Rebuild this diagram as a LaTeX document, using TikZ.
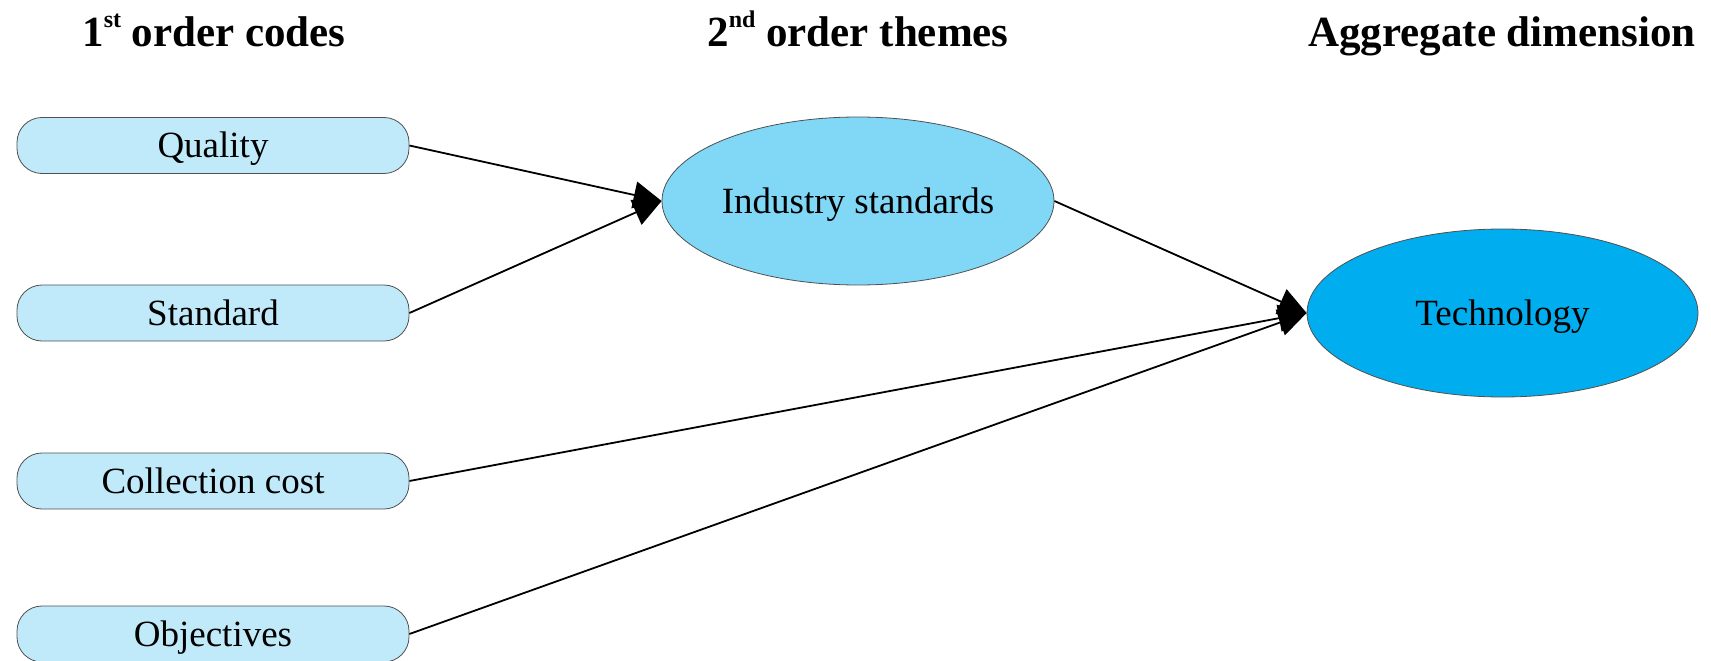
\documentclass[tikz,border=0pt]{standalone}
\usepackage{fontspec}
\setmainfont{Liberation Serif}
\usetikzlibrary{arrows.meta,shapes.geometric}

\definecolor{codefill}{HTML}{C0EAF9}
\definecolor{themefill}{HTML}{80D7F6}
\definecolor{aggfill}{HTML}{00AEEF}
\definecolor{outline}{HTML}{505050}

% raised ordinal suffix for the column headings
\newcommand{\ordsuffix}[1]{\raisebox{19pt}{\fontsize{24}{24}\selectfont #1}}

\begin{document}
\begin{tikzpicture}[x=1pt,y=-1pt,
  bodytext/.style={font=\fontsize{37}{44}\selectfont, text height=24.5pt, text depth=0pt, inner sep=0pt},
  codebox/.style={bodytext, draw=outline, line width=0.8pt, fill=codefill,
    rounded corners=25pt, minimum width=392pt, minimum height=56pt},
  themeoval/.style={bodytext, ellipse, draw=outline, line width=0.8pt, fill=themefill,
    minimum width=392pt, minimum height=168pt},
  aggoval/.style={bodytext, ellipse, draw=outline, line width=0.8pt, fill=aggfill,
    minimum width=391pt, minimum height=168pt},
  colhead/.style={font=\bfseries\fontsize{43}{50}\selectfont, anchor=base, inner sep=0pt},
  link/.style={line width=1.8pt, -{Triangle[length=28pt,width=27pt]}}
]
\useasboundingbox (0,0) rectangle (1711,661);

% column headings
\node[colhead] (h1) at (214,47) {1\ordsuffix{st} order codes};
\node[colhead] (h2) at (858,47) {2\ordsuffix{nd} order themes};
\node[colhead] (h3) at (1502,47) {Aggregate dimension};

% first order codes
\node[codebox] (quality) at (213,145.5) {Quality};
\node[codebox] (standard) at (213,313) {Standard};
\node[codebox] (cost) at (213,481) {Collection cost};
\node[codebox] (objectives) at (213,634) {Objectives};

% second order theme and aggregate dimension
\node[themeoval] (industry) at (858,201) {Industry standards};
\node[aggoval] (technology) at (1502.5,313) {Technology};

% connectors
\draw[link] (quality.east) -- (industry.west);
\draw[link] (standard.east) -- (industry.west);
\draw[link] (industry.east) -- (technology.west);
\draw[link] (cost.east) -- (technology.west);
\draw[link] (objectives.east) -- (technology.west);
\end{tikzpicture}
\end{document}
